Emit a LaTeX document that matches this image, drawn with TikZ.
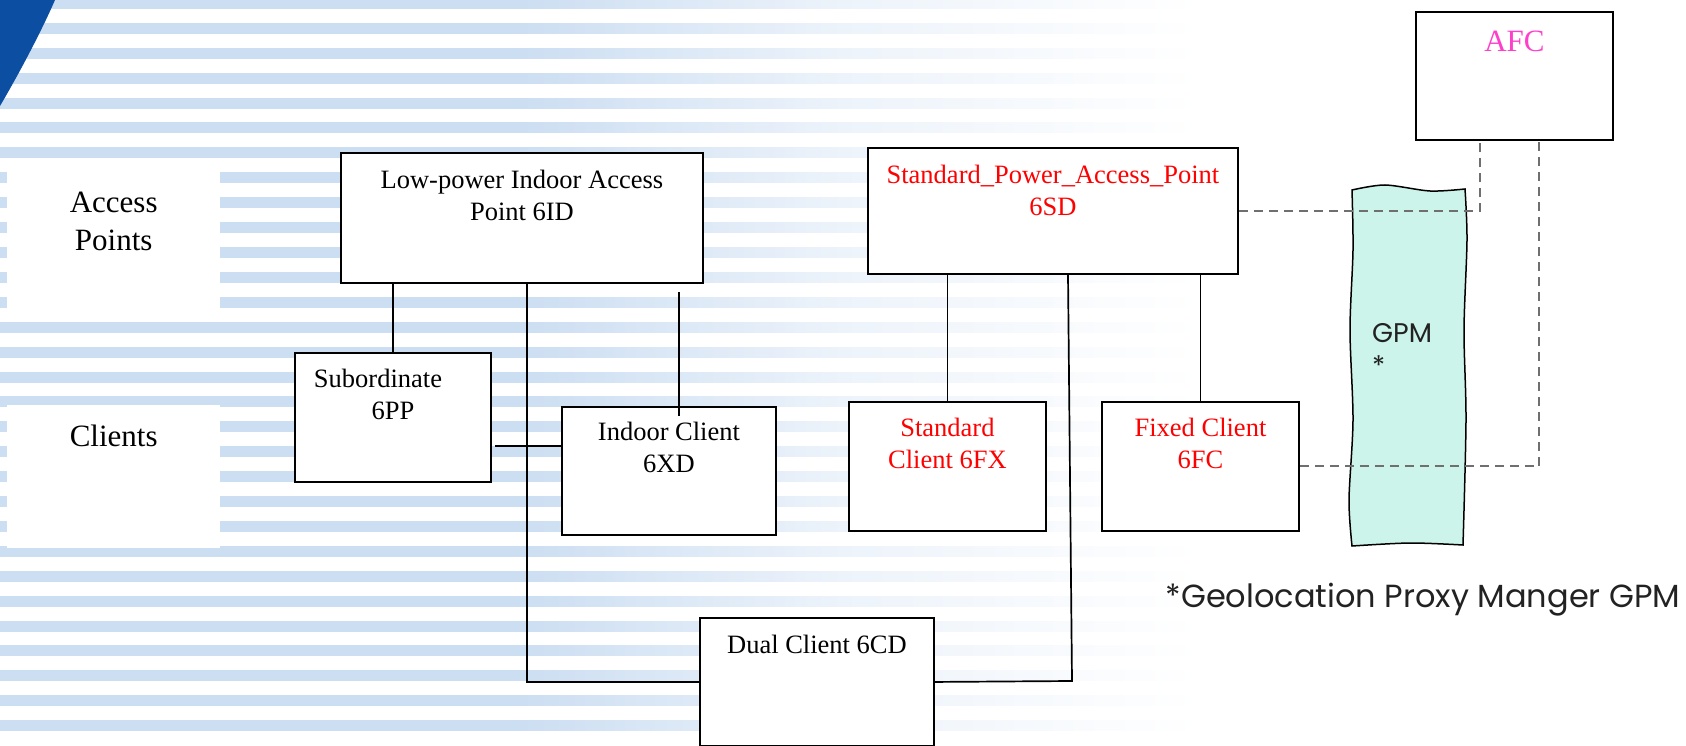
\documentclass[tikz,border=0pt]{standalone}
\usepackage{fontspec}
\setmainfont{Liberation Serif}
\newfontfamily\gotica{Poppins}
\definecolor{franja}{HTML}{CCDEF2}
\definecolor{azulOsc}{HTML}{0B4EA2}
\definecolor{rojoT}{HTML}{FF0000}
\definecolor{rosaT}{HTML}{FF3FCB}
\definecolor{menta}{HTML}{CCF4EA}
\definecolor{grisP}{HTML}{6F6F6F}
\definecolor{notaT}{HTML}{222222}
\tikzset{
  caja/.style={draw, line width=1.9pt, fill=white, anchor=north west, inner sep=0pt},
  blanca/.style={fill=white, anchor=north west, inner sep=0pt},
  texto/.style={font=\fontsize{26.5}{32}\selectfont, align=center, anchor=north, inner sep=0pt},
  grande/.style={texto, font=\fontsize{31}{38}\selectfont},
  enlace/.style={line width=1.7pt},
  punteado/.style={draw=grisP, line width=2pt, dash pattern=on 9pt off 6pt},
}

\begin{document}
\begin{tikzpicture}[x=1pt, y=-1pt]
    % Fijar el tamaño del dibujo
    \useasboundingbox (0,0) rectangle (1686,746);

    % Fondo con franjas horizontales que se desvanecen
    \foreach \i in {0,...,29} {
        \pgfmathsetmacro{\yy}{3.5+24.9*\i}
        \shade[left color=franja, right color=franja] (0,\yy-5) rectangle (521,\yy+5);
        \shade[left color=franja, right color=franja!35] (520,\yy-5) rectangle (851,\yy+5);
        \shade[left color=franja!35, right color=white] (850,\yy-5) rectangle (1200,\yy+5);
    }

    % Esquina azul
    \fill[azulOsc] (0,0) -- (55,0) .. controls (42,30) and (20,72) .. (0,106) -- cycle;

    % Recuadros blancos de las filas
    \node[blanca, minimum width=213pt, minimum height=146pt] (acc) at (7,172) {};
    \node[blanca, minimum width=213pt, minimum height=143pt] (cli) at (7,405) {};

    % Dibujar las cajas
    \node[caja, minimum width=362pt, minimum height=130pt] (lp) at (340,152) {};
    \node[caja, minimum width=370pt, minimum height=126pt] (spap) at (867,147) {};
    \node[caja, minimum width=196pt, minimum height=129pt] (sub) at (294,352) {};
    \node[caja, minimum width=214pt, minimum height=128pt] (ind) at (561,406) {};
    \node[caja, minimum width=234pt, minimum height=128pt] (dual) at (699,617) {};
    \node[caja, minimum width=197pt, minimum height=129pt] (stdc) at (848,401) {};
    \node[caja, minimum width=197pt, minimum height=129pt] (fix) at (1101,401) {};
    \node[caja, minimum width=197pt, minimum height=128pt] (afc) at (1415,11) {};

    % Puntos de paso de las lineas
    \coordinate (b1) at (527,282);
    \coordinate (b2) at (679,292);
    \coordinate (b3) at (679,416);
    \coordinate (b4) at (495,446);
    \coordinate (b5) at (1068,273);
    \coordinate (b6) at (1072,681);

    % Lineas de la parte de interior
    \draw[enlace] (lp.south -| sub.north) -- (sub.north);
    \draw[enlace] (lp.south -| b1) |- (dual.west);
    \draw[enlace] (b2) -- (b3);
    \draw[enlace] (b4) -- (b4 -| ind.west);

    % Lineas de la parte estandar
    \draw[enlace] (spap.south -| stdc.north) -- (stdc.north);
    \draw[enlace] (spap.south -| fix.north) -- (fix.north);
    \draw[enlace] (spap.south -| b5) -- (b6) -- (dual.east);

    % Pergamino del GPM
    \draw[line width=1.5pt, fill=menta]
        plot[smooth] coordinates {(1352,190) (1385,185) (1430,191) (1465,189)}
        -- plot[smooth] coordinates {(1465,189) (1467,240) (1464,330) (1466,420) (1463,545)}
        -- plot[smooth] coordinates {(1463,545) (1410,543) (1352,546)}
        -- plot[smooth] coordinates {(1352,546) (1349,500) (1353,420) (1350,330) (1353,250) (1352,190)}
        -- cycle;

    % Lineas punteadas hacia el AFC
    \draw[punteado] (spap.east) -| ([xshift=-34pt]afc.south);
    \draw[punteado] (fix.east) -| ([xshift=25pt]afc.south);

    % Textos
    \node[grande] (acct) at ([yshift=-20pt]acc.north) {Access\\Points};
    \node[grande] (clit) at ([yshift=-20pt]cli.north) {Clients};
    \node[texto] (lpt) at ([yshift=-18pt]lp.north) {Low-power Indoor Access\\Point 6ID};
    \node[texto, text=rojoT] (spapt) at ([yshift=-18pt]spap.north) {Standard\_Power\_Access\_Point\\6SD};
    \node[texto] (subt) at ([yshift=-17pt]sub.north) {\makebox[158pt][l]{Subordinate}\\6PP};
    \node[texto] (indt) at ([yshift=-16pt]ind.north) {Indoor Client\\6XD};
    \node[texto] (dualt) at ([yshift=-18pt]dual.north) {Dual Client 6CD};
    \node[texto, text=rojoT] (stdct) at ([yshift=-17pt]stdc.north) {Standard\\Client 6FX};
    \node[texto, text=rojoT] (fixt) at ([yshift=-17pt]fix.north) {Fixed Client\\6FC};
    \node[grande, text=rosaT] (afct) at ([yshift=-20pt]afc.north) {AFC};
    \node[anchor=north west, inner sep=0pt, align=left, text=notaT, font=\gotica\fontsize{27}{33}\selectfont] (gpmt) at (1372,323) {GPM\\*};
    \node[anchor=base, inner sep=0pt, text=notaT, font=\gotica\fontsize{32}{38}\selectfont] (nota) at (1423,607) {*Geolocation Proxy Manger GPM};
\end{tikzpicture}
\end{document}
